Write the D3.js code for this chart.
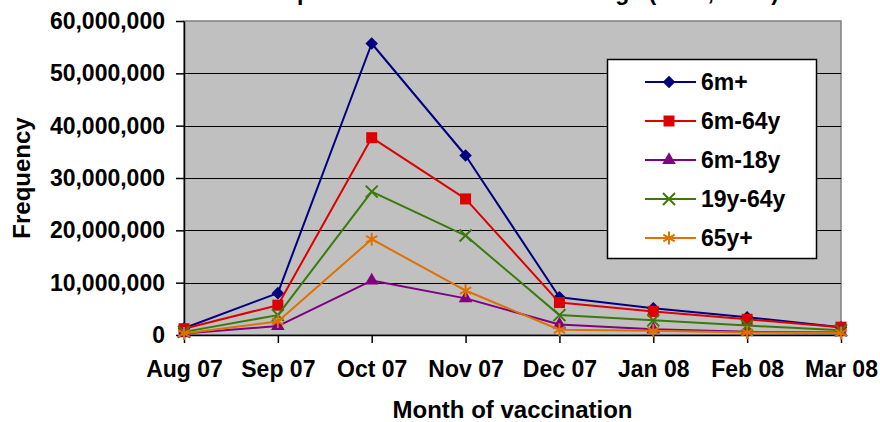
<!DOCTYPE html>
<html>
<head>
<meta charset="utf-8">
<script src="https://cdn.jsdelivr.net/npm/d3@7"></script>
<style>
  body { margin: 0; background: #fff; }
  svg text { font-family: "Liberation Sans", Arial, sans-serif; font-weight: bold; }
</style>
</head>
<body>
<div class="chart"></div>
<script>
// data
const months = ["Aug 07", "Sep 07", "Oct 07", "Nov 07", "Dec 07", "Jan 08", "Feb 08", "Mar 08"];
const yTicks = [0, 10000000, 20000000, 30000000, 40000000, 50000000, 60000000];
const seriesNames = ["6m+", "6m-64y", "6m-18y", "19y-64y", "65y+"];
const s6mPlus = [1300000, 8000000, 55700000, 34300000, 7200000, 5100000, 3400000, 1500000];
const s6m64y = [1200000, 5700000, 37700000, 26000000, 6200000, 4500000, 3000000, 1500000];
const s6m18y = [300000, 1700000, 10400000, 7000000, 2000000, 1100000, 600000, 500000];
const s19y64y = [600000, 3800000, 27400000, 19000000, 3800000, 2800000, 1800000, 900000];
const s65yPlus = [300000, 2600000, 18300000, 8500000, 1000000, 800000, 500000, 400000];

const width = 880, height = 422;
const margin = { top: 21, right: 39, bottom: 87, left: 184 };

const series = [
  { name: seriesNames[0], values: s6mPlus, color: "#000080", symbol: d3.symbolDiamond2 || d3.symbolDiamond, size: 100, filled: true },
  { name: seriesNames[1], values: s6m64y, color: "#dd0000", symbol: d3.symbolSquare, size: 121, filled: true },
  { name: seriesNames[2], values: s6m18y, color: "#800080", symbol: d3.symbolTriangle, size: 80, filled: true },
  { name: seriesNames[3], values: s19y64y, color: "#3b7a0a", symbol: d3.symbolTimes || d3.symbolCross, size: 96, filled: false },
  { name: seriesNames[4], values: s65yPlus, color: "#e07000", symbol: d3.symbolAsterisk || d3.symbolStar, size: 120, filled: false }
];

//scales
const x = d3.scalePoint()
  .domain(months)
  .range([margin.left, width - margin.right])
  .padding(0);

const y = d3.scaleLinear()
  .domain([0, 60000000])
  .range([height - margin.bottom, margin.top]);

const svg = d3.select(".chart").append("svg")
  .attr("width", width)
  .attr("height", height)
  .attr("viewBox", `0 0 ${width} ${height}`);

//title (mostly cut off above the picture, as in the original)
svg.append("text")
  .attr("x", 779)
  .attr("y", 0)
  .attr("text-anchor", "end")
  .attr("font-size", 23)
  .text("Vaccinations per calendar month in each age (2007, 2008)");

//plot area
svg.append("rect")
  .attr("x", margin.left)
  .attr("y", margin.top)
  .attr("width", width - margin.left - margin.right)
  .attr("height", height - margin.top - margin.bottom)
  .attr("fill", "#c0c0c0")
  .attr("stroke", "#808080")
  .attr("stroke-width", 1.5);

//gridlines
svg.append("g")
  .selectAll("line")
  .data(yTicks.slice(1, -1))
  .join("line")
  .attr("x1", margin.left)
  .attr("x2", width - margin.right)
  .attr("y1", d => Math.round(y(d)) + 0.5)
  .attr("y2", d => Math.round(y(d)) + 0.5)
  .attr("stroke", "#000")
  .attr("stroke-width", 1);

//y-axis
const yAxis = svg.append("g")
  .attr("transform", `translate(${margin.left},0)`)
  .call(d3.axisLeft(y).tickValues(yTicks).tickSize(8).tickSizeOuter(0).tickPadding(11).tickFormat(d3.format(",")));

//x-axis
const xAxis = svg.append("g")
  .attr("transform", `translate(0,${height - margin.bottom})`)
  .call(d3.axisBottom(x).tickSize(8).tickSizeOuter(0).tickPadding(18));

[yAxis, xAxis].forEach(g => {
  g.selectAll("text").attr("font-size", 23).attr("fill", "#000")
    .style("font-family", '"Liberation Sans", Arial, sans-serif').style("font-weight", "bold");
  g.selectAll("line, path").attr("stroke", "#000").attr("stroke-width", 1.5);
});

//lines + markers
const line = d3.line()
  .x((d, i) => x(months[i]))
  .y(d => y(d));

series.forEach(s => {
  svg.append("path")
    .datum(s.values)
    .attr("fill", "none")
    .attr("stroke", s.color)
    .attr("stroke-width", 2)
    .attr("stroke-linejoin", "round")
    .attr("d", line);

  svg.append("g")
    .selectAll("path")
    .data(s.values)
    .join("path")
    .attr("transform", (d, i) => `translate(${x(months[i])},${y(d)})`)
    .attr("d", d3.symbol(s.symbol, s.size))
    .attr("fill", s.filled ? s.color : "none")
    .attr("stroke", s.color)
    .attr("stroke-width", s.filled ? 0 : 2);
});

//legend
const legend = svg.append("g");
legend.append("rect")
  .attr("x", 607.5)
  .attr("y", 59.5)
  .attr("width", 209)
  .attr("height", 199)
  .attr("fill", "#fff")
  .attr("stroke", "#000")
  .attr("stroke-width", 1.5);

const item = legend.selectAll("g.item")
  .data(series)
  .join("g")
  .attr("class", "item")
  .attr("transform", (d, i) => `translate(0,${82 + i * 39})`);

item.append("line")
  .attr("x1", 645)
  .attr("x2", 696)
  .attr("stroke", d => d.color)
  .attr("stroke-width", 2);

item.append("path")
  .attr("transform", "translate(669,0)")
  .attr("d", d => d3.symbol(d.symbol, d.size)())
  .attr("fill", d => d.filled ? d.color : "none")
  .attr("stroke", d => d.color)
  .attr("stroke-width", d => d.filled ? 0 : 2);

item.append("text")
  .attr("x", 701)
  .attr("dy", "0.35em")
  .attr("font-size", 23)
  .text(d => d.name);

//axis titles
svg.append("text")
  .attr("x", (margin.left + width - margin.right) / 2)
  .attr("y", 418)
  .attr("text-anchor", "middle")
  .attr("font-size", 24)
  .text("Month of vaccination");

svg.append("text")
  .attr("transform", "rotate(-90)")
  .attr("x", -178)
  .attr("y", 30)
  .attr("text-anchor", "middle")
  .attr("font-size", 24)
  .text("Frequency");
</script>
</body>
</html>
